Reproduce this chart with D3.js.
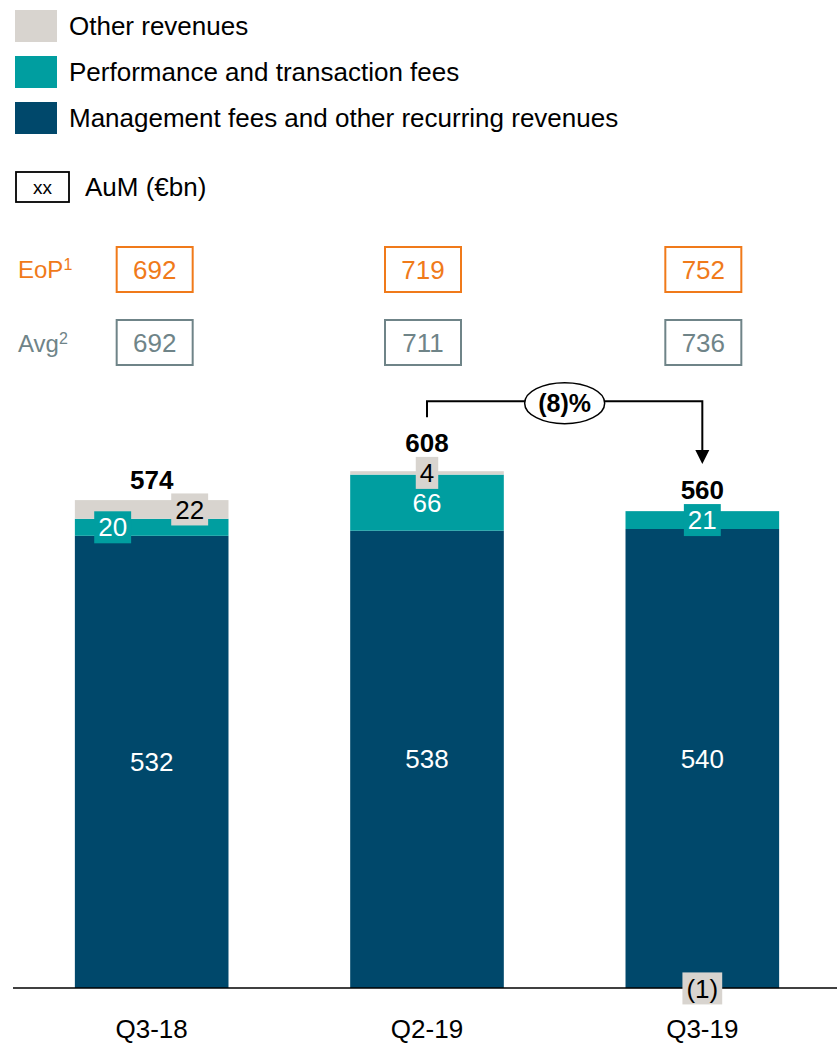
<!DOCTYPE html>
<html>
<head>
<meta charset="utf-8">
<script src="https://cdn.jsdelivr.net/npm/d3@7"></script>
<style>
  html, body { margin: 0; padding: 0; background: #fff; }
  svg { display: block; font-family: "Liberation Sans", Arial, sans-serif; }
</style>
</head>
<body>
<svg id="chart" width="837" height="1043"></svg>
<script>
// ---- data ----
const categories = ["Q3-18", "Q2-19", "Q3-19"];
const mgmtFees = [532, 538, 540];
const perfFees = [20, 66, 21];
const otherRev = [22, 4, -1];
const totals = [574, 608, 560];
const aumEoP = [692, 719, 752];
const aumAvg = [692, 711, 736];
const changeLabel = "(8)%";
const seriesNames = ["Other revenues", "Performance and transaction fees", "Management fees and other recurring revenues"];

// ---- styles ----
const C = { other: "#D8D4CF", perf: "#009EA0", mgmt: "#00486B", orange: "#F07A1A", grey: "#6F8488" };
const FS = 26;

const svg = d3.select("#chart");
const baseY = 988;
const x = d3.scaleBand().domain(categories).range([16, 838]).paddingInner(0.442).paddingOuter(0.2138);
const y = d3.scaleLinear().domain([0, 700]).range([baseY, baseY - 700 * 0.85]);

// ---- legend ----
const legColors = [C.other, C.perf, C.mgmt];
const leg = svg.append("g");
seriesNames.forEach((n, i) => {
  const ly = 10 + i * 46;
  leg.append("rect").attr("x", 15).attr("y", ly).attr("width", 42).attr("height", 32).attr("fill", legColors[i]);
  leg.append("text").attr("x", 69).attr("y", ly + 16).attr("dy", "0.35em")
    .attr("font-size", 26).attr("fill", "#000").text(n);
});
leg.append("rect").attr("x", 16).attr("y", 172).attr("width", 53).attr("height", 30)
  .attr("fill", "#fff").attr("stroke", "#000").attr("stroke-width", 1.8);
leg.append("text").attr("x", 42.5).attr("y", 187).attr("dy", "0.35em").attr("text-anchor", "middle")
  .attr("font-size", 19).text("xx");
leg.append("text").attr("x", 85).attr("y", 187).attr("dy", "0.35em").attr("font-size", 26).text("AuM (€bn)");

// ---- AuM rows ----
function rowLabel(txt, sup, yy, col) {
  const t = svg.append("text").attr("x", 18).attr("y", yy).attr("dy", "0.35em")
    .attr("font-size", 24).attr("fill", col);
  t.append("tspan").text(txt);
  t.append("tspan").attr("font-size", 16).attr("dy", "-0.5em").text(sup);
}
rowLabel("EoP", "1", 270, C.orange);
rowLabel("Avg", "2", 344, C.grey);

const boxDx = [3, -4, 1];
function aumRow(vals, yTop, col) {
  const g = svg.append("g");
  categories.forEach((c, i) => {
    const cx = x(c) + x.bandwidth() / 2 + boxDx[i];
    g.append("rect").attr("x", cx - 38).attr("y", yTop).attr("width", 76).attr("height", 45)
      .attr("fill", "#fff").attr("stroke", col).attr("stroke-width", 2);
    g.append("text").attr("x", cx).attr("y", yTop + 22.5).attr("dy", "0.35em")
      .attr("text-anchor", "middle").attr("font-size", FS).attr("fill", col).text(vals[i]);
  });
}
aumRow(aumEoP, 247, C.orange);
aumRow(aumAvg, 320, C.grey);

// ---- bars ----
const stacks = categories.map((c, i) => {
  const segs = [];
  segs.push({ key: "mgmt", y0: 0, y1: mgmtFees[i], v: mgmtFees[i] });
  segs.push({ key: "perf", y0: mgmtFees[i], y1: mgmtFees[i] + perfFees[i], v: perfFees[i] });
  if (otherRev[i] >= 0) segs.push({ key: "other", y0: mgmtFees[i] + perfFees[i], y1: mgmtFees[i] + perfFees[i] + otherRev[i], v: otherRev[i] });
  else segs.push({ key: "other", y0: otherRev[i], y1: 0, v: otherRev[i] });
  return { c, i, segs };
});

const barG = svg.append("g");
stacks.forEach(s => {
  s.segs.forEach(seg => {
    barG.append("rect")
      .attr("x", x(s.c)).attr("width", x.bandwidth())
      .attr("y", y(seg.y1)).attr("height", Math.max(0, y(seg.y0) - y(seg.y1)))
      .attr("fill", C[seg.key]);
  });
});

// baseline
svg.append("line").attr("x1", 13).attr("x2", 837).attr("y1", baseY).attr("y2", baseY)
  .attr("stroke", "#000").attr("stroke-width", 1.5);

// ---- segment labels ----
// horizontal offsets for labels (px), per category: [perf, other]
const labelDx = [[-39, 38], [0, 0], [0, 0]];
const labelBoxed = [[true, true], [false, true], [true, true]];
const fmt = v => v < 0 ? "(" + Math.abs(v) + ")" : String(v);
const boxTops = [];
stacks.forEach(s => {
  const cx = x(s.c) + x.bandwidth() / 2;
  let minTop = y(totals[s.i]);
  const m = s.segs[0];
  svg.append("text").attr("x", cx).attr("y", (y(m.y0) + y(m.y1)) / 2).attr("dy", "0.35em")
    .attr("text-anchor", "middle").attr("font-size", FS).attr("fill", "#fff").text(m.v);
  [s.segs[1], s.segs[2]].forEach((seg, k) => {
    const lx = cx + labelDx[s.i][k];
    const ly = (y(seg.y0) + y(seg.y1)) / 2;
    const col = seg.key === "perf" ? C.perf : C.other;
    const txtCol = seg.key === "perf" ? "#fff" : "#000";
    const g = svg.append("g");
    const r = g.append("rect");
    const t = g.append("text").attr("x", lx).attr("y", ly).attr("dy", "0.35em")
      .attr("text-anchor", "middle").attr("font-size", FS).attr("fill", txtCol).text(fmt(seg.v));
    if (labelBoxed[s.i][k]) {
      const bb = t.node().getBBox();
      const w = bb.width + 8, h = 32;
      r.attr("x", lx - w / 2).attr("y", ly - h / 2).attr("width", w).attr("height", h).attr("fill", col);
      if (seg.v > 0) minTop = Math.min(minTop, ly - h / 2);
    } else r.remove();
  });
  boxTops.push(minTop);
  svg.append("text").attr("x", cx).attr("y", minTop - 14).attr("dy", "0.35em")
    .attr("text-anchor", "middle").attr("font-size", FS).attr("font-weight", "bold").text(totals[s.i]);
});

// ---- change bracket ----
const x1 = x(categories[1]) + x.bandwidth() / 2;
const x2 = x(categories[2]) + x.bandwidth() / 2;
const topY = y(totals[1]) - 70;
const startY = topY + 16;
const tipY = boxTops[2] - 40;
svg.append("path")
  .attr("d", `M${x1},${startY} V${topY} H${x2} V${tipY - 12}`)
  .attr("fill", "none").attr("stroke", "#000").attr("stroke-width", 2);
svg.append("path")
  .attr("d", `M${x2 - 7},${tipY - 14} L${x2 + 7},${tipY - 14} L${x2},${tipY} Z`)
  .attr("fill", "#000");
const ex = (x1 + x2) / 2;
svg.append("ellipse").attr("cx", ex).attr("cy", topY + 2).attr("rx", 40).attr("ry", 20.5)
  .attr("fill", "#fff").attr("stroke", "#000").attr("stroke-width", 1.5);
svg.append("text").attr("x", ex).attr("y", topY + 2).attr("dy", "0.35em").attr("text-anchor", "middle")
  .attr("font-size", 25).attr("font-weight", "bold").text(changeLabel);

// ---- x axis labels ----
categories.forEach(c => {
  svg.append("text").attr("x", x(c) + x.bandwidth() / 2).attr("y", 1029).attr("dy", "0.35em")
    .attr("text-anchor", "middle").attr("font-size", FS).text(c);
});
</script>
</body>
</html>
